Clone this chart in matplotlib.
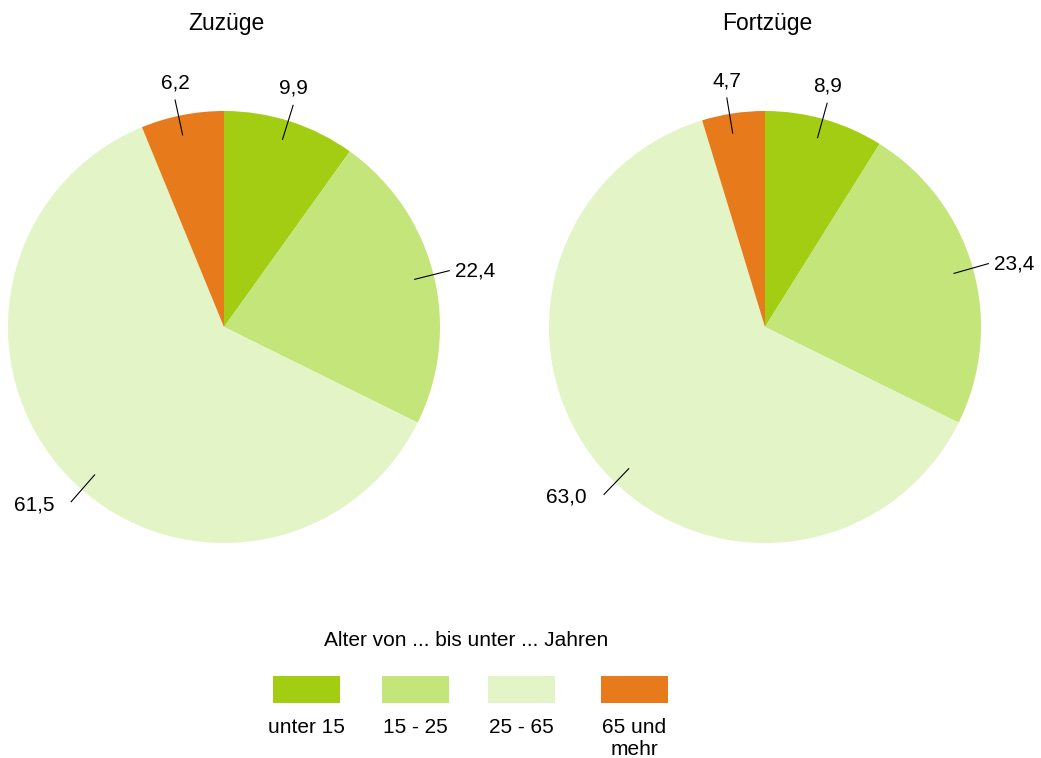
import numpy as np
import matplotlib
matplotlib.use("Agg")
import matplotlib.pyplot as plt
from matplotlib.patches import Rectangle

plt.rcParams['font.family'] = ['Liberation Sans', 'DejaVu Sans']

# data
categories = ["unter 15", "15 - 25", "25 - 65", "65 und\nmehr"]
colors = ["#a3cd12", "#c3e57a", "#e3f4c6", "#e77a1b"]
titles = ["Zuzüge", "Fortzüge"]
zuzuege = [9.9, 22.4, 61.5, 6.2]
fortzuege = [8.9, 23.4, 63.0, 4.7]
legend_title = "Alter von ... bis unter ... Jahren"

# leader line nudges (degrees), the big slice's line sits a bit off its middle
angle_nudge = [0.5, 0, 5.8, 1]

W, H = 1041, 758
fig = plt.figure(figsize=(W / 100, H / 100), dpi=100)


def px_axes(x0, y0, w, h):
    # pixel box (top-left origin) -> figure fraction
    return fig.add_axes([x0 / W, 1 - (y0 + h) / H, w / W, h / H])


def fmt(v):
    return f"{v:.1f}".replace(".", ",")


def draw_pie(ax, values, title):
    wedges, _ = ax.pie(values, colors=colors, startangle=90, counterclock=False,
                       radius=1.0, wedgeprops=dict(linewidth=0))
    ax.set_xlim(-1, 1)
    ax.set_ylim(-1, 1)
    ax.set_aspect("equal")
    ax.axis("off")
    for w, v, nudge in zip(wedges, values, angle_nudge):
        ang = np.deg2rad((w.theta1 + w.theta2) / 2 + nudge)
        c, s = np.cos(ang), np.sin(ang)
        ax.plot([0.91 * c, 1.075 * c], [0.91 * s, 1.075 * s], color="black", lw=0.8,
                clip_on=False)
        if s > 0.7:
            ha, off = "center", (0, 17)
        elif c > 0:
            ha, off = "left", (6, 0)
        else:
            ha, off = "right", (-17, -3)
        ax.annotate(fmt(v), (1.075 * c, 1.075 * s), xytext=off,
                    textcoords="offset pixels", ha=ha, va="center",
                    fontsize=15, annotation_clip=False)
    ax.text(0.01, 1.405, title, ha="center", va="center", fontsize=16.5)


ax1 = px_axes(8, 111, 432, 432)
draw_pie(ax1, zuzuege, titles[0])
ax2 = px_axes(549, 111, 432, 432)
draw_pie(ax2, fortzuege, titles[1])

# legend, labels under colour boxes
lax = px_axes(0, 600, W, 158)
lax.set_xlim(0, W)
lax.set_ylim(758, 600)
lax.axis("off")
lax.text(466, 640, legend_title, ha="center", va="center", fontsize=15)
box_x = [273, 382, 488, 601]
for x, col, lab in zip(box_x, colors, categories):
    lax.add_patch(Rectangle((x, 676), 67, 27, facecolor=col, edgecolor="none"))
    lax.text(x + 33.5, 718, lab, ha="center", va="top", fontsize=15,
             linespacing=1.2)

fig.savefig("out.png", dpi=100)
